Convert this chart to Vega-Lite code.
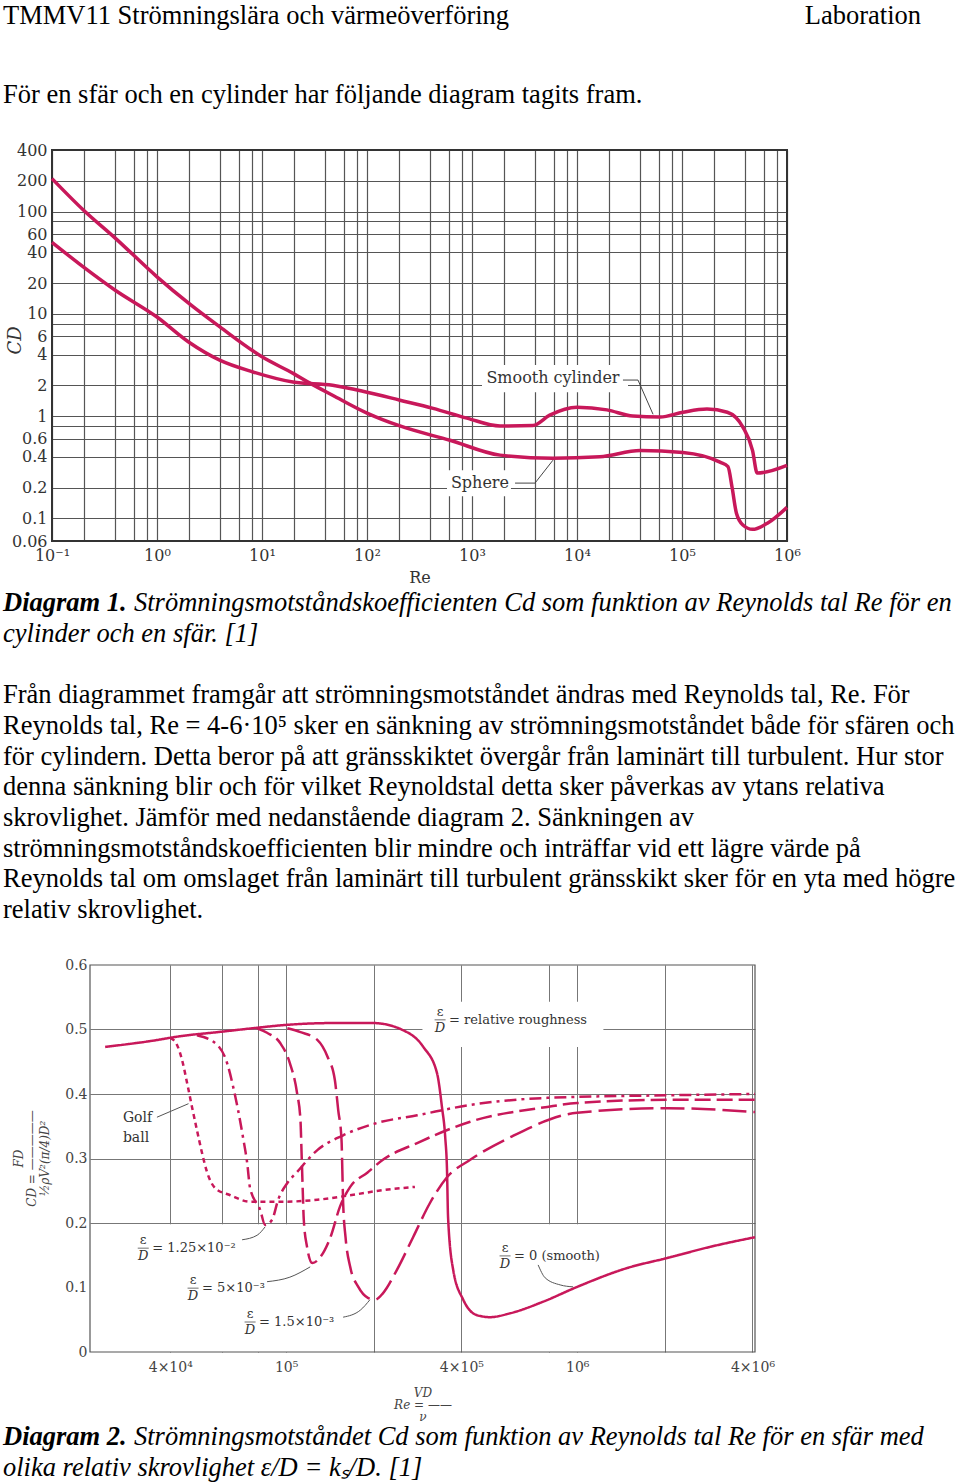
{
  "$schema": "https://vega.github.io/schema/vega-lite/v6.json",
  "background": "white",
  "padding": 0,
  "spacing": 0,
  "bounds": "flush",
  "config": {
    "view": {"stroke": null},
    "axis": {"ticks": false, "domain": false, "labelFont": "DejaVu Serif", "titleFont": "DejaVu Serif", "labelColor": "#333", "titleColor": "#333", "titleFontWeight": "normal", "labelFlush": false, "labelOverlap": false}
  },
  "vconcat": [
    {
      "width": 960, "height": 150,
      "data": {"values": [
        {"line": 0, "part": "left", "text": "TMMV11 Strömningslära och värmeöverföring"},
        {"line": 0, "part": "right", "text": "Laboration"},
        {"line": 1, "part": "left", "text": "För en sfär och en cylinder har följande diagram tagits fram."}
      ]},
      "encoding": {
        "y": {"field": "line", "type": "quantitative", "scale": {"domain": [0, 1], "range": [16, 95]}, "axis": null},
        "text": {"field": "text"}
      },
      "layer": [
        {"transform": [{"filter": "datum.part == 'left'"}], "mark": {"type": "text", "align": "left", "baseline": "middle", "font": "Liberation Serif", "fontSize": 26.5, "color": "#000"}, "encoding": {"x": {"value": 3}}},
        {"transform": [{"filter": "datum.part == 'right'"}], "mark": {"type": "text", "align": "right", "baseline": "middle", "font": "Liberation Serif", "fontSize": 26.5, "color": "#000"}, "encoding": {"x": {"value": 921}}}
      ]
    },
    {
      "width": 960, "height": 391,
      "encoding": {
        "x": {"field": "Re", "type": "quantitative",
          "scale": {"type": "log", "domain": [0.1, 1000000], "range": [52, 787], "nice": false},
          "axis": {"values": [0.1,0.2,0.4,0.6,0.8,1,2,4,6,8,10,20,40,60,80,100,200,400,600,800,1000,2000,4000,6000,8000,10000,20000,40000,60000,80000,100000,200000,400000,600000,800000,1000000],
            "labelExpr": "datum.value == 0.1 ? '10⁻¹' : datum.value == 1 ? '10⁰' : datum.value == 10 ? '10¹' : datum.value == 100 ? '10²' : datum.value == 1000 ? '10³' : datum.value == 10000 ? '10⁴' : datum.value == 100000 ? '10⁵' : datum.value == 1000000 ? '10⁶' : ''",
            "grid": true, "gridColor": "#555", "gridWidth": 1.2, "labelFontSize": 16, "labelPadding": 6,
            "title": "Re", "titleFontSize": 16, "titleY": 36, "titleBaseline": "middle"}},
        "y": {"field": "Cd", "type": "quantitative",
          "scale": {"type": "log", "domain": [0.06, 400], "range": [391, 0], "nice": false},
          "axis": {"values": [0.06,0.1,0.2,0.4,0.6,0.8,1,2,4,6,8,10,20,40,60,80,100,200,400],
            "labelExpr": "datum.value == 0.8 || datum.value == 8 || datum.value == 80 ? '' : '' + datum.value",
            "grid": true, "gridColor": "#555", "gridWidth": 1.2, "offset": -52, "labelPadding": 5, "labelFontSize": 16,
            "title": "CD", "titleFontStyle": "italic", "titleFontSize": 18, "titleX": -37, "titleY": 190, "titleBaseline": "middle", "titleAngle": -90}}
      },
      "layer": [
        {"data": {"values": [
            {"Re": 1245, "Re2": 30600, "Cd": 1.71, "Cd2": 3.15},
            {"Re": 578, "Re2": 2350, "Cd": 0.164, "Cd2": 0.296}
          ]},
          "mark": {"type": "rect", "color": "white"},
          "encoding": {"x2": {"field": "Re2"}, "y2": {"field": "Cd2"}}},
        {"data": {"values": [{"Re": 0.1, "Re2": 1000000, "Cd": 0.06, "Cd2": 400}]},
          "mark": {"type": "rect", "filled": false, "color": "#333", "strokeWidth": 2},
          "encoding": {"x2": {"field": "Re2"}, "y2": {"field": "Cd2"}}},
        {"data": {"values": [
            {"series": "Sphere", "Re": 0.1, "Cd": 210}, {"series": "Sphere", "Re": 0.2, "Cd": 103}, {"series": "Sphere", "Re": 0.4, "Cd": 55},
            {"series": "Sphere", "Re": 1, "Cd": 23}, {"series": "Sphere", "Re": 2, "Cd": 12.7}, {"series": "Sphere", "Re": 4, "Cd": 7.4},
            {"series": "Sphere", "Re": 10, "Cd": 3.8}, {"series": "Sphere", "Re": 20, "Cd": 2.6}, {"series": "Sphere", "Re": 28.6, "Cd": 2.1},
            {"series": "Sphere", "Re": 47, "Cd": 1.6}, {"series": "Sphere", "Re": 100, "Cd": 1.07}, {"series": "Sphere", "Re": 206, "Cd": 0.8},
            {"series": "Sphere", "Re": 617, "Cd": 0.58}, {"series": "Sphere", "Re": 1849, "Cd": 0.415}, {"series": "Sphere", "Re": 5900, "Cd": 0.387},
            {"series": "Sphere", "Re": 16500, "Cd": 0.4}, {"series": "Sphere", "Re": 40000, "Cd": 0.46}, {"series": "Sphere", "Re": 102000, "Cd": 0.44},
            {"series": "Sphere", "Re": 230000, "Cd": 0.354}, {"series": "Sphere", "Re": 274000, "Cd": 0.32}, {"series": "Sphere", "Re": 300000, "Cd": 0.2},
            {"series": "Sphere", "Re": 330000, "Cd": 0.112}, {"series": "Sphere", "Re": 380000, "Cd": 0.086}, {"series": "Sphere", "Re": 470000, "Cd": 0.078},
            {"series": "Sphere", "Re": 650000, "Cd": 0.0895}, {"series": "Sphere", "Re": 1000000, "Cd": 0.128},
            {"series": "Cylinder", "Re": 0.1, "Cd": 50}, {"series": "Cylinder", "Re": 0.2, "Cd": 28.6}, {"series": "Cylinder", "Re": 0.4, "Cd": 17},
            {"series": "Cylinder", "Re": 1, "Cd": 9.3}, {"series": "Cylinder", "Re": 2, "Cd": 5.3}, {"series": "Cylinder", "Re": 4, "Cd": 3.5},
            {"series": "Cylinder", "Re": 8.2, "Cd": 2.7}, {"series": "Cylinder", "Re": 19.7, "Cd": 2.15}, {"series": "Cylinder", "Re": 47, "Cd": 2.0},
            {"series": "Cylinder", "Re": 100, "Cd": 1.71}, {"series": "Cylinder", "Re": 206, "Cd": 1.43}, {"series": "Cylinder", "Re": 426, "Cd": 1.19},
            {"series": "Cylinder", "Re": 895, "Cd": 0.955}, {"series": "Cylinder", "Re": 1849, "Cd": 0.8}, {"series": "Cylinder", "Re": 3800, "Cd": 0.81},
            {"series": "Cylinder", "Re": 5500, "Cd": 1.02}, {"series": "Cylinder", "Re": 10000, "Cd": 1.22}, {"series": "Cylinder", "Re": 19300, "Cd": 1.15},
            {"series": "Cylinder", "Re": 34000, "Cd": 1.0}, {"series": "Cylinder", "Re": 62000, "Cd": 0.98}, {"series": "Cylinder", "Re": 102000, "Cd": 1.09},
            {"series": "Cylinder", "Re": 173000, "Cd": 1.17}, {"series": "Cylinder", "Re": 270000, "Cd": 1.09}, {"series": "Cylinder", "Re": 380000, "Cd": 0.78},
            {"series": "Cylinder", "Re": 470000, "Cd": 0.46}, {"series": "Cylinder", "Re": 520000, "Cd": 0.277}, {"series": "Cylinder", "Re": 1000000, "Cd": 0.33}
          ]},
          "mark": {"type": "line", "interpolate": "monotone", "strokeWidth": 3.5, "color": "#c8185a"},
          "encoding": {"detail": {"field": "series"}}},
        {"data": {"values": [
            {"id": "cyl", "Re": 27400, "Cd": 2.25}, {"id": "cyl", "Re": 38100, "Cd": 2.25}, {"id": "cyl", "Re": 53000, "Cd": 1.04},
            {"id": "sph", "Re": 2570, "Cd": 0.221}, {"id": "sph", "Re": 3981, "Cd": 0.221}, {"id": "sph", "Re": 5900, "Cd": 0.37}
          ]},
          "mark": {"type": "line", "strokeWidth": 1, "color": "#444"},
          "encoding": {"detail": {"field": "id"}}},
        {"data": {"values": [
            {"Re": 5900, "Cd": 2.35, "label": "Smooth cylinder"},
            {"Re": 1190, "Cd": 0.221, "label": "Sphere"}
          ]},
          "mark": {"type": "text", "font": "DejaVu Serif", "fontSize": 16, "color": "#333", "baseline": "middle"},
          "encoding": {"text": {"field": "label"}}}
      ]
    },
    {
      "width": 960, "height": 424,
      "data": {"values": [
        {"line": 0, "part": "b", "text": "Diagram 1."},
        {"line": 0, "part": "ic", "text": "Strömningsmotståndskoefficienten Cd som funktion av Reynolds tal Re för en"},
        {"line": 1, "part": "i", "text": "cylinder och en sfär. [1]"},
        {"line": 3, "part": "n", "text": "Från diagrammet framgår att strömningsmotståndet ändras med Reynolds tal, Re. För"},
        {"line": 4, "part": "n", "text": "Reynolds tal, Re = 4-6·10⁵ sker en sänkning av strömningsmotståndet både för sfären och"},
        {"line": 5, "part": "n", "text": "för cylindern. Detta beror på att gränsskiktet övergår från laminärt till turbulent. Hur stor"},
        {"line": 6, "part": "n", "text": "denna sänkning blir och för vilket Reynoldstal detta sker påverkas av ytans relativa"},
        {"line": 7, "part": "n", "text": "skrovlighet. Jämför med nedanstående diagram 2. Sänkningen av"},
        {"line": 8, "part": "n", "text": "strömningsmotståndskoefficienten blir mindre och inträffar vid ett lägre värde på"},
        {"line": 9, "part": "n", "text": "Reynolds tal om omslaget från laminärt till turbulent gränsskikt sker för en yta med högre"},
        {"line": 10, "part": "n", "text": "relativ skrovlighet."}
      ]},
      "encoding": {
        "y": {"field": "line", "type": "quantitative", "scale": {"domain": [0, 10], "range": [62, 369]}, "axis": null},
        "text": {"field": "text"}
      },
      "layer": [
        {"transform": [{"filter": "datum.part == 'n'"}], "mark": {"type": "text", "align": "left", "baseline": "middle", "font": "Liberation Serif", "fontSize": 26.5, "color": "#000"}, "encoding": {"x": {"value": 3}}},
        {"transform": [{"filter": "datum.part == 'b'"}], "mark": {"type": "text", "align": "left", "baseline": "middle", "font": "Liberation Serif", "fontSize": 26.5, "fontWeight": "bold", "fontStyle": "italic", "color": "#000"}, "encoding": {"x": {"value": 3}}},
        {"transform": [{"filter": "datum.part == 'i'"}], "mark": {"type": "text", "align": "left", "baseline": "middle", "font": "Liberation Serif", "fontSize": 26.5, "fontStyle": "italic", "color": "#000"}, "encoding": {"x": {"value": 3}}},
        {"transform": [{"filter": "datum.part == 'ic'"}], "mark": {"type": "text", "align": "left", "baseline": "middle", "font": "Liberation Serif", "fontSize": 26.5, "fontStyle": "italic", "color": "#000"}, "encoding": {"x": {"value": 134}}}
      ]
    },
    {
      "width": 960, "height": 387,
      "encoding": {
        "x": {"field": "Re", "type": "quantitative",
          "scale": {"type": "log", "domain": [21200, 4080000], "range": [90, 755], "nice": false},
          "axis": {"values": [40000, 60000, 80000, 100000, 200000, 400000, 800000, 1000000, 2000000, 4000000],
            "labelExpr": "datum.value == 40000 ? '4×10⁴' : datum.value == 100000 ? '10⁵' : datum.value == 400000 ? '4×10⁵' : datum.value == 1000000 ? '10⁶' : datum.value == 4000000 ? '4×10⁶' : ''",
            "grid": true, "gridColor": "#777", "gridWidth": 1, "labelFontSize": 14, "labelPadding": 8, "labelColor": "#444",
            "title": ["\u00a0\u00a0\u00a0\u00a0\u00a0\u00a0\u00a0\u00a0\u00a0VD", "Re = ——", "\u00a0\u00a0\u00a0\u00a0\u00a0\u00a0\u00a0\u00a0\u00a0ν"],
            "titleFontSize": 12, "titleFontStyle": "italic", "titleLineHeight": 12, "titleY": 40, "titleBaseline": "middle", "titleColor": "#444"}},
        "y": {"field": "Cd", "type": "quantitative",
          "scale": {"domain": [0, 0.6], "range": [387, 0], "nice": false, "zero": false},
          "axis": {"values": [0, 0.1, 0.2, 0.3, 0.4, 0.5, 0.6],
            "labelExpr": "'' + datum.value",
            "grid": true, "gridColor": "#777", "gridWidth": 1,
            "gridOpacity": {"condition": {"test": "datum.value < 0.15 || datum.value > 0.55", "value": 0}, "value": 1},
            "offset": -90, "labelPadding": 3, "labelFontSize": 14, "labelColor": "#444",
            "title": ["\u00a0\u00a0\u00a0\u00a0\u00a0\u00a0\u00a0\u00a0\u00a0FD", "CD = —————", "\u00a0\u00a0\u00a0\u00a0\u00a0\u00a0\u00a0\u00a0\u00a0½ρV²(π/4)D²"],
            "titleFontSize": 12, "titleFontStyle": "italic", "titleLineHeight": 13, "titleX": -72, "titleY": 193, "titleBaseline": "middle", "titleAngle": -90, "titleColor": "#444"}}
      },
      "layer": [
        {"data": {"values": [
            {"Re": 21200, "Re2": 190000, "Cd": 0, "Cd2": 0.198},
            {"Re": 420000, "Re2": 1900000, "Cd": 0, "Cd2": 0.198},
            {"Re": 294000, "Re2": 1230000, "Cd": 0.473, "Cd2": 0.543}
          ]},
          "mark": {"type": "rect", "color": "white"},
          "encoding": {"x2": {"field": "Re2"}, "y2": {"field": "Cd2"}}},
        {"data": {"values": [{"Re": 21200, "Re2": 4080000, "Cd": 0, "Cd2": 0.6}]},
          "mark": {"type": "rect", "filled": false, "color": "#555", "strokeWidth": 1.2},
          "encoding": {"x2": {"field": "Re2"}, "y2": {"field": "Cd2"}}},
        {"data": {"values": [
            {"series": "smooth", "Re": 23900, "Cd": 0.473}, {"series": "smooth", "Re": 34100, "Cd": 0.482}, {"series": "smooth", "Re": 43900, "Cd": 0.49},
            {"series": "smooth", "Re": 58400, "Cd": 0.496}, {"series": "smooth", "Re": 77000, "Cd": 0.502}, {"series": "smooth", "Re": 99200, "Cd": 0.507},
            {"series": "smooth", "Re": 145000, "Cd": 0.51}, {"series": "smooth", "Re": 199000, "Cd": 0.51}, {"series": "smooth", "Re": 252000, "Cd": 0.499},
            {"series": "smooth", "Re": 296000, "Cd": 0.473}, {"series": "smooth", "Re": 330000, "Cd": 0.432}, {"series": "smooth", "Re": 343000, "Cd": 0.38},
            {"series": "smooth", "Re": 352000, "Cd": 0.333}, {"series": "smooth", "Re": 357000, "Cd": 0.282}, {"series": "smooth", "Re": 360000, "Cd": 0.209},
            {"series": "smooth", "Re": 375000, "Cd": 0.127}, {"series": "smooth", "Re": 406000, "Cd": 0.081}, {"series": "smooth", "Re": 453000, "Cd": 0.057},
            {"series": "smooth", "Re": 502000, "Cd": 0.054}, {"series": "smooth", "Re": 588000, "Cd": 0.06}, {"series": "smooth", "Re": 764000, "Cd": 0.078},
            {"series": "smooth", "Re": 1000000, "Cd": 0.101}, {"series": "smooth", "Re": 1480000, "Cd": 0.13}, {"series": "smooth", "Re": 2050000, "Cd": 0.146},
            {"series": "smooth", "Re": 2860000, "Cd": 0.163}, {"series": "smooth", "Re": 4080000, "Cd": 0.178},
            {"series": "golf", "Re": 40000, "Cd": 0.487}, {"series": "golf", "Re": 42200, "Cd": 0.476}, {"series": "golf", "Re": 43900, "Cd": 0.453},
            {"series": "golf", "Re": 45700, "Cd": 0.417}, {"series": "golf", "Re": 47500, "Cd": 0.38}, {"series": "golf", "Re": 49400, "Cd": 0.344},
            {"series": "golf", "Re": 51400, "Cd": 0.309}, {"series": "golf", "Re": 53500, "Cd": 0.279}, {"series": "golf", "Re": 57100, "Cd": 0.254},
            {"series": "golf", "Re": 64300, "Cd": 0.243}, {"series": "golf", "Re": 75200, "Cd": 0.233}, {"series": "golf", "Re": 97700, "Cd": 0.233},
            {"series": "golf", "Re": 128000, "Cd": 0.236}, {"series": "golf", "Re": 166000, "Cd": 0.243}, {"series": "golf", "Re": 215000, "Cd": 0.251},
            {"series": "golf", "Re": 277000, "Cd": 0.256},
            {"series": "e125", "Re": 49400, "Cd": 0.491}, {"series": "e125", "Re": 58000, "Cd": 0.476}, {"series": "e125", "Re": 62700, "Cd": 0.448},
            {"series": "e125", "Re": 65800, "Cd": 0.411}, {"series": "e125", "Re": 68400, "Cd": 0.375}, {"series": "e125", "Re": 71100, "Cd": 0.333},
            {"series": "e125", "Re": 73500, "Cd": 0.293}, {"series": "e125", "Re": 75200, "Cd": 0.254}, {"series": "e125", "Re": 81500, "Cd": 0.22},
            {"series": "e125", "Re": 84700, "Cd": 0.197}, {"series": "e125", "Re": 89500, "Cd": 0.205}, {"series": "e125", "Re": 93900, "Cd": 0.236},
            {"series": "e125", "Re": 101000, "Cd": 0.262}, {"series": "e125", "Re": 109000, "Cd": 0.279}, {"series": "e125", "Re": 128000, "Cd": 0.313},
            {"series": "e125", "Re": 157000, "Cd": 0.336}, {"series": "e125", "Re": 205000, "Cd": 0.355}, {"series": "e125", "Re": 282000, "Cd": 0.367},
            {"series": "e125", "Re": 429000, "Cd": 0.383}, {"series": "e125", "Re": 789000, "Cd": 0.394}, {"series": "e125", "Re": 2050000, "Cd": 0.398},
            {"series": "e125", "Re": 4080000, "Cd": 0.4},
            {"series": "e5", "Re": 79500, "Cd": 0.502}, {"series": "e5", "Re": 86000, "Cd": 0.495}, {"series": "e5", "Re": 95400, "Cd": 0.479},
            {"series": "e5", "Re": 103000, "Cd": 0.448}, {"series": "e5", "Re": 109000, "Cd": 0.402}, {"series": "e5", "Re": 112000, "Cd": 0.36},
            {"series": "e5", "Re": 113000, "Cd": 0.309}, {"series": "e5", "Re": 114000, "Cd": 0.254}, {"series": "e5", "Re": 115000, "Cd": 0.205},
            {"series": "e5", "Re": 118000, "Cd": 0.163}, {"series": "e5", "Re": 123000, "Cd": 0.138}, {"series": "e5", "Re": 131000, "Cd": 0.147},
            {"series": "e5", "Re": 142000, "Cd": 0.178}, {"series": "e5", "Re": 153000, "Cd": 0.225}, {"series": "e5", "Re": 166000, "Cd": 0.256},
            {"series": "e5", "Re": 190000, "Cd": 0.278}, {"series": "e5", "Re": 215000, "Cd": 0.298}, {"series": "e5", "Re": 282000, "Cd": 0.324},
            {"series": "e5", "Re": 429000, "Cd": 0.357}, {"series": "e5", "Re": 789000, "Cd": 0.38}, {"series": "e5", "Re": 1000000, "Cd": 0.386},
            {"series": "e5", "Re": 2050000, "Cd": 0.391}, {"series": "e5", "Re": 4080000, "Cd": 0.391},
            {"series": "e15", "Re": 101000, "Cd": 0.502}, {"series": "e15", "Re": 112000, "Cd": 0.496}, {"series": "e15", "Re": 128000, "Cd": 0.484},
            {"series": "e15", "Re": 139000, "Cd": 0.457}, {"series": "e15", "Re": 147000, "Cd": 0.422}, {"series": "e15", "Re": 151000, "Cd": 0.375},
            {"series": "e15", "Re": 155000, "Cd": 0.329}, {"series": "e15", "Re": 156000, "Cd": 0.282}, {"series": "e15", "Re": 157000, "Cd": 0.231},
            {"series": "e15", "Re": 160000, "Cd": 0.178}, {"series": "e15", "Re": 166000, "Cd": 0.132}, {"series": "e15", "Re": 177000, "Cd": 0.101},
            {"series": "e15", "Re": 191000, "Cd": 0.084}, {"series": "e15", "Re": 202000, "Cd": 0.081}, {"series": "e15", "Re": 215000, "Cd": 0.091},
            {"series": "e15", "Re": 240000, "Cd": 0.127}, {"series": "e15", "Re": 273000, "Cd": 0.178}, {"series": "e15", "Re": 312000, "Cd": 0.231},
            {"series": "e15", "Re": 357000, "Cd": 0.271}, {"series": "e15", "Re": 429000, "Cd": 0.298}, {"series": "e15", "Re": 589000, "Cd": 0.333},
            {"series": "e15", "Re": 1000000, "Cd": 0.371}, {"series": "e15", "Re": 2050000, "Cd": 0.378}, {"series": "e15", "Re": 4080000, "Cd": 0.372}
          ]},
          "mark": {"type": "line", "interpolate": "monotone", "strokeWidth": 2.5, "color": "#c8185a"},
          "encoding": {"strokeDash": {"field": "series", "type": "nominal", "legend": null,
            "scale": {"domain": ["smooth", "golf", "e125", "e5", "e15"], "range": [[1, 0], [5, 4], [12, 5, 3, 5], [16, 6], [24, 7]]}}}},
        {"data": {"values": [
            {"id": "golf", "Re": 36000, "Cd": 0.364}, {"id": "golf", "Re": 46200, "Cd": 0.385},
            {"id": "a", "Re": 70600, "Cd": 0.174}, {"id": "a", "Re": 79500, "Cd": 0.181}, {"id": "a", "Re": 84700, "Cd": 0.194},
            {"id": "b", "Re": 86000, "Cd": 0.109}, {"id": "b", "Re": 103000, "Cd": 0.116}, {"id": "b", "Re": 121000, "Cd": 0.132},
            {"id": "c", "Re": 157000, "Cd": 0.054}, {"id": "c", "Re": 180000, "Cd": 0.065}, {"id": "c", "Re": 194000, "Cd": 0.081},
            {"id": "s", "Re": 734000, "Cd": 0.135}, {"id": "s", "Re": 776000, "Cd": 0.115}, {"id": "s", "Re": 874000, "Cd": 0.104}, {"id": "s", "Re": 968000, "Cd": 0.101}
          ]},
          "mark": {"type": "line", "interpolate": "monotone", "strokeWidth": 1, "color": "#555"},
          "encoding": {"detail": {"field": "id"}}},
        {"data": {"values": [
            {"Re": 27500, "Cd": 0.363, "label": "Golf"},
            {"Re": 27500, "Cd": 0.332, "label": "ball"}
          ]},
          "mark": {"type": "text", "align": "left", "baseline": "middle", "font": "DejaVu Serif", "fontSize": 14, "color": "#333"},
          "encoding": {"text": {"field": "label"}}},
        {"data": {"name": "frac", "values": [
            {"Re": 338000, "Cd": 0.515, "rest": "= relative roughness"},
            {"Re": 32300, "Cd": 0.161, "rest": "= 1.25×10⁻²"},
            {"Re": 47900, "Cd": 0.099, "rest": "= 5×10⁻³"},
            {"Re": 75200, "Cd": 0.0465, "rest": "= 1.5×10⁻³"},
            {"Re": 565000, "Cd": 0.149, "rest": "= 0 (smooth)"}
          ]},
          "layer": [
            {"mark": {"type": "text", "text": "ε", "dy": -8, "baseline": "middle", "font": "DejaVu Serif", "fontSize": 13, "color": "#333"}},
            {"mark": {"type": "text", "text": "D", "dy": 8, "baseline": "middle", "font": "DejaVu Serif", "fontStyle": "italic", "fontSize": 13, "color": "#333"}},
            {"mark": {"type": "tick", "orient": "horizontal", "size": 11, "thickness": 1, "color": "#333"}},
            {"mark": {"type": "text", "align": "left", "dx": 9, "baseline": "middle", "font": "DejaVu Serif", "fontSize": 13, "color": "#333"}, "encoding": {"text": {"field": "rest"}}}
          ]}
      ]
    },
    {
      "width": 960, "height": 132,
      "data": {"values": [
        {"line": 0, "part": "b", "text": "Diagram 2."},
        {"line": 0, "part": "ic", "text": "Strömningsmotståndet Cd som funktion av Reynolds tal Re för en sfär med"},
        {"line": 1, "part": "i", "text": "olika relativ skrovlighet ε/D = kₛ/D. [1]"}
      ]},
      "encoding": {
        "y": {"field": "line", "type": "quantitative", "scale": {"domain": [0, 1], "range": [85, 116]}, "axis": null},
        "text": {"field": "text"}
      },
      "layer": [
        {"transform": [{"filter": "datum.part == 'b'"}], "mark": {"type": "text", "align": "left", "baseline": "middle", "font": "Liberation Serif", "fontSize": 26.5, "fontWeight": "bold", "fontStyle": "italic", "color": "#000"}, "encoding": {"x": {"value": 3}}},
        {"transform": [{"filter": "datum.part == 'i'"}], "mark": {"type": "text", "align": "left", "baseline": "middle", "font": "Liberation Serif", "fontSize": 26.5, "fontStyle": "italic", "color": "#000"}, "encoding": {"x": {"value": 3}}},
        {"transform": [{"filter": "datum.part == 'ic'"}], "mark": {"type": "text", "align": "left", "baseline": "middle", "font": "Liberation Serif", "fontSize": 26.5, "fontStyle": "italic", "color": "#000"}, "encoding": {"x": {"value": 134}}}
      ]
    }
  ]
}
